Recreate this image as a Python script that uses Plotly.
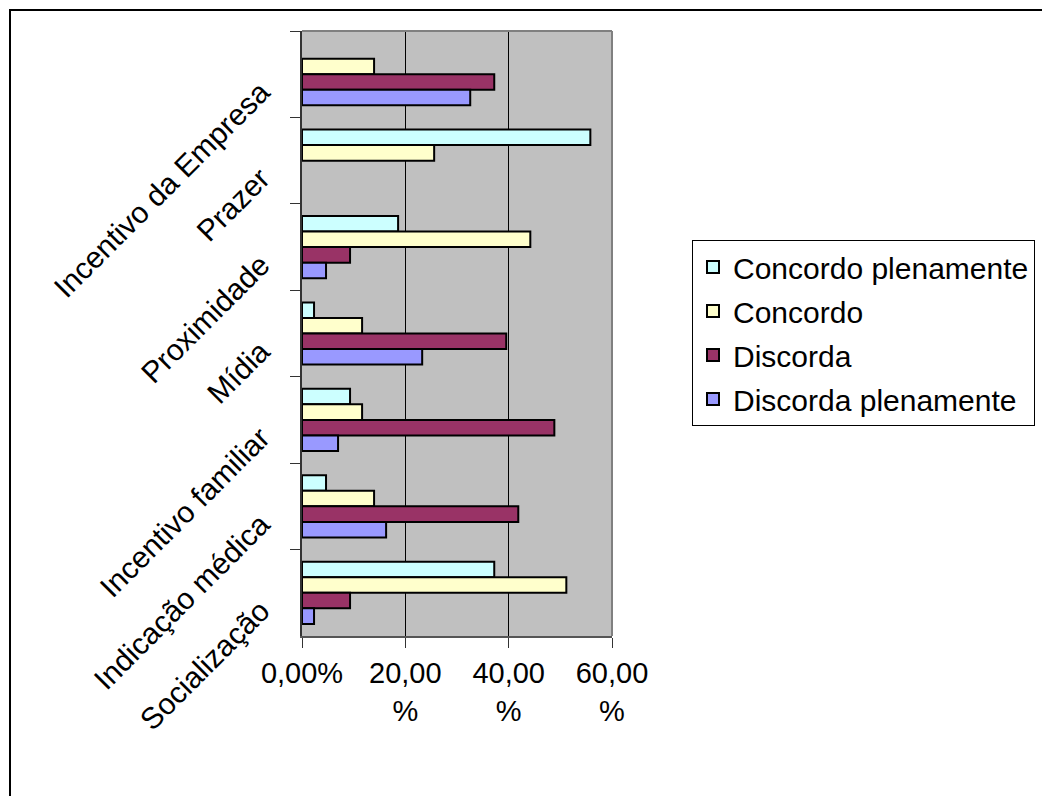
import plotly.graph_objects as go

# Motivos, de cima para baixo no eixo
categorias = [
    "Incentivo da Empresa",
    "Prazer",
    "Proximidade",
    "Mídia",
    "Incentivo familiar",
    "Indicação médica",
    "Socialização",
]

# Percentuais de respostas por motivo (mesma ordem das categorias)
concordo_plenamente = [None, 55.81, 18.60, 2.33, 9.30, 4.65, 37.21]
concordo = [13.95, 25.58, 44.19, 11.63, 11.63, 13.95, 51.16]
discorda = [37.21, None, 9.30, 39.53, 48.84, 41.86, 9.30]
discorda_plenamente = [32.56, None, 4.65, 23.26, 6.98, 16.28, 2.33]

x_ticks = [0, 20, 40, 60]
x_tick_labels = ["0,00%", "20,00<br>%", "40,00<br>%", "60,00<br>%"]

FONT = "Liberation Sans, Arial, sans-serif"

series = [
    ("Concordo plenamente", concordo_plenamente, "#CCFFFF"),
    ("Concordo", concordo, "#FFFFCC"),
    ("Discorda", discorda, "#993366"),
    ("Discorda plenamente", discorda_plenamente, "#9999FF"),
]

fig = go.Figure()
for nome, valores, cor in series:
    fig.add_trace(go.Bar(
        name=nome,
        y=categorias,
        x=valores,
        orientation="h",
        marker=dict(color=cor, line=dict(color="black", width=2)),
        legendgroup=nome,
    ))

W, H = 1042, 796
L, R, T, B = 302, 430, 31, 160
pw, ph = W - L - R, H - T - B


def px_x(px):
    return (px - L) / pw


def px_y(py):
    return (H - B - py) / ph


fig.update_layout(
    width=W,
    height=H,
    margin=dict(l=L, r=R, t=T, b=B, autoexpand=False),
    paper_bgcolor="white",
    plot_bgcolor="#C0C0C0",
    barmode="group",
    bargap=0.28,
    bargroupgap=0,
    font=dict(family=FONT, size=29, color="black"),
    showlegend=True,
    legend=dict(
        x=px_x(692),
        y=px_y(240),
        xanchor="left",
        yanchor="top",
        traceorder="grouped",
        tracegroupgap=2,
        bordercolor="black",
        borderwidth=1,
        bgcolor="white",
        font=dict(family=FONT, size=30),
    ),
    xaxis=dict(
        range=[0, 60],
        tickvals=x_ticks,
        ticktext=x_tick_labels,
        showgrid=True,
        gridcolor="black",
        gridwidth=1,
        zeroline=False,
        showline=True,
        linecolor="#555555",
        linewidth=2,
        ticks="outside",
        ticklen=10,
        tickcolor="#333333",
        tickwidth=1,
        tickfont=dict(family=FONT, size=29),
        automargin=False,
        fixedrange=True,
    ),
    yaxis=dict(
        type="category",
        categoryorder="array",
        categoryarray=categorias,
        # primeira categoria no topo
        range=[6.5, -0.5],
        tickangle=-45,
        tickson="boundaries",
        ticks="outside",
        ticklen=10,
        tickcolor="#333333",
        tickwidth=1,
        ticklabelstandoff=33,
        ticklabelshift=-14,
        showline=True,
        linecolor="#333333",
        linewidth=2,
        showgrid=False,
        tickfont=dict(family=FONT, size=30),
        automargin=False,
        fixedrange=True,
    ),
    shapes=[
        # moldura cinza da área de plotagem (lados superior e direito)
        dict(type="line", xref="paper", yref="paper", x0=0, x1=1, y0=1, y1=1,
             line=dict(color="#808080", width=2), layer="above"),
        dict(type="line", xref="paper", yref="paper", x0=1, x1=1, y0=0, y1=1,
             line=dict(color="#808080", width=2), layer="above"),
        # moldura externa do gráfico
        dict(type="rect", xref="paper", yref="paper",
             x0=px_x(10), x1=px_x(1060), y0=px_y(10), y1=px_y(820),
             line=dict(color="black", width=2), fillcolor="rgba(0,0,0,0)",
             layer="below"),
    ],
)

fig.write_html("out.html")
